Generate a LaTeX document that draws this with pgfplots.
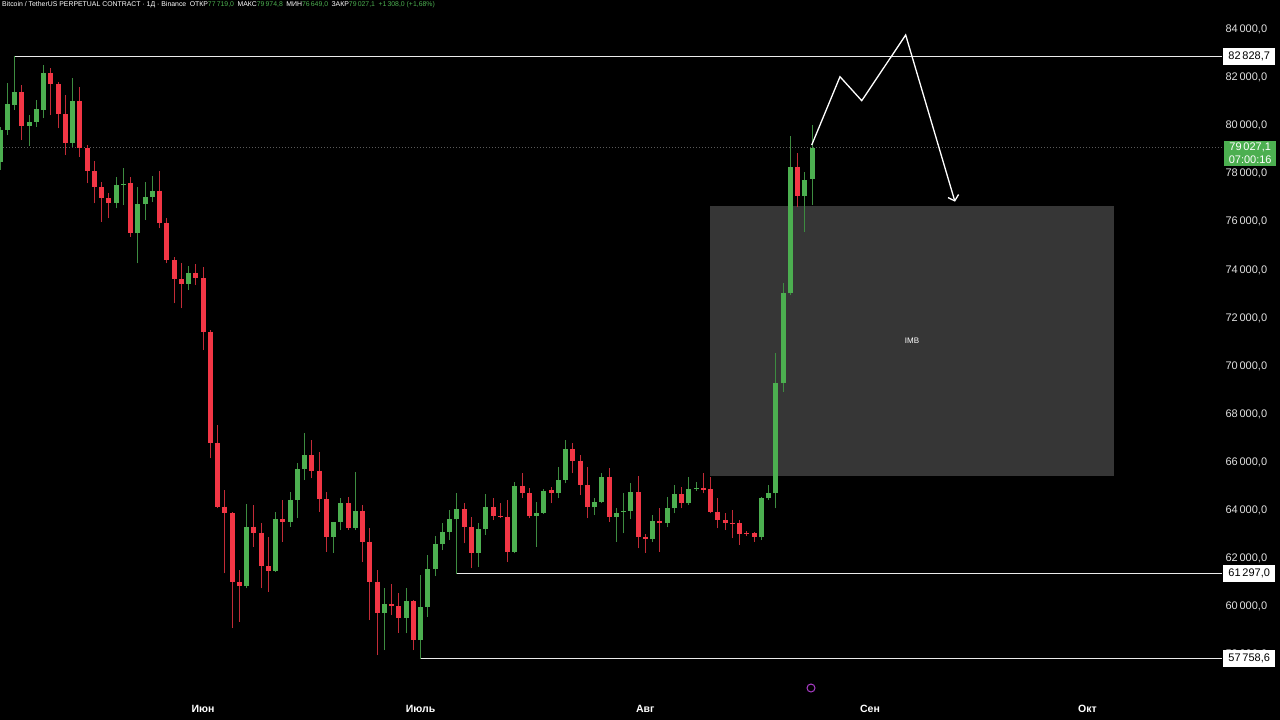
\documentclass[border=0pt]{standalone}
\usepackage{pgfplots}
\pgfplotsset{compat=1.18}
\usepackage{pgfplotstable}
\usepackage{fontspec}
\setmainfont{Liberation Sans}
\usetikzlibrary{arrows.meta,backgrounds}
\definecolor{cgreen}{RGB}{76,175,80}
\definecolor{cred}{RGB}{242,54,69}
\definecolor{boxgray}{RGB}{54,54,54}
\definecolor{axtext}{RGB}{225,225,225}
\definecolor{dotgray}{RGB}{90,90,90}
\definecolor{iconpurple}{RGB}{170,60,200}

% green (rising) candles: x open high low close
\pgfplotstableread{
x o h l c
0 78439 79900 78092 79756
1 79756 81698 79548 80824
2 80797 82828 80588 81351
4 79937 80380 79104 80103
5 80103 81005 79895 80616
6 80588 82461 80242 82114
10 79229 81934 79063 80963
16 76733 77815 76497 77468
17 77468 78161 76636 77520
19 75457 77399 74208 76677
20 76677 77607 76011 76982
21 76982 77856 76775 77232
26 73348 74111 73099 73792
34 60784 64196 60687 63253
38 61422 63877 61380 63558
40 63461 64710 63253 64363
41 64363 65889 63600 65639
42 65639 67164 65195 66235
46 62837 63461 62171 63447
47 63447 64432 63114 64224
49 63211 65541 63114 63919
53 59676 60689 58123 60023
56 59468 60689 58816 60162
58 58539 61244 57758.6 59926
59 59926 62076 59510 61479
60 61479 62866 61202 62519
61 62519 63393 62284 63047
62 63047 63948 62700 63560
63 63560 64669 61297 63976
66 62173 63393 61590 63144
67 63144 64614 62908 64059
71 62214 65127 62145 64961
74 63698 64295 62422 63837
75 63837 64808 63782 64753
77 64642 65751 64434 65196
78 65196 66861 65058 66473
82 64059 64434 63740 64295
83 64295 65502 64226 65335
85 63671 64018 62631 63837
86 63865 64670 62977 63910
87 63907 65086 63560 64683
90 62728 63740 62631 63504
92 63421 64503 63227 64018
93 64018 64988 63810 64600
95 64226 65335 64156 64822
96 64822 65127 64753 64877
105 62811 64503 62700 64434
106 64434 64988 64364 64642
107 64638 70464 64014 69216
108 69216 73377 68869 72960
109 72960 79507 72891 78231
111 77011 78023 75526 77676
112 77719 79974.8 76649 79027.1
}\up

% red (falling) candles: x open high low close
\pgfplotstableread{
x o h l c
3 81351 81629 79340 79923
7 82114 82322 80380 81656
8 81656 81767 79826 80408
9 80408 81213 78716 79229
11 80963 81559 78647 79021
12 79021 79132 77537 78050
13 78050 78467 76705 77371
14 77371 77607 75942 76913
15 76913 77121 76081 76733
18 77537 77815 75318 75457
22 77232 78050 75665 75873
23 75873 76081 74208 74347
24 74347 74486 72544 73542
25 73542 74208 72336 73348
27 73792 74167 73307 73584
28 73584 74072 70604 71367
29 71367 71436 66096 66720
30 66720 67483 64016 64085
31 64085 64779 61311 63808
32 63808 63877 59023 60964
33 60964 61450 59300 60784
35 63253 64155 62421 63003
36 63003 63392 60687 61616
37 61616 62837 60548 61422
39 63558 64363 62629 63461
43 66235 66859 65264 65583
44 65583 66374 63877 64404
45 64404 64710 62213 62837
48 64224 64501 63114 63211
50 63919 64155 61797 62629
51 62629 63185 59371 60966
52 60966 61452 57915 59676
54 60023 60869 59579 59954
55 59954 60508 58844 59468
57 60162 60203 58123 58539
64 63976 64225 62561 63255
65 63255 63671 61521 62173
68 64059 64434 63532 63698
69 63698 64225 63602 63650
70 63650 64364 61798 62214
72 64961 65502 64434 64642
73 64642 64850 63602 63698
76 64781 64919 64225 64642
79 66473 66722 65474 66001
80 66001 66237 64572 64988
81 64988 65751 63601 64059
84 65335 65682 63463 63671
88 64683 65363 62353 62811
89 62839 62950 62173 62728
91 63504 64018 62214 63421
94 64600 64919 64018 64226
97 64877 65474 64642 64780
98 64808 65335 63809 63879
99 63879 64434 63185 63532
100 63532 63810 63116 63393
101 63420 63948 62769 63370
102 63393 63532 62492 62950
103 62995 63088 62866 62945
104 62977 63047 62631 62811
110 78231 78814 76539 77011
}\down

\begin{document}
\begin{tikzpicture}
\begin{axis}[
  scale only axis, width=1222pt, height=690pt,
  xmin=0, xmax=168.55, ymin=56461, ymax=85165,
  clip mode=individual,
  axis line style={draw=none},
  major tick length=0pt,
  scaled ticks=false,
  ytick={58000,60000,...,84000},
  yticklabel pos=right,
  xtick={28,58,89,120,150},
  xticklabels={Июн,Июль,Авг,Сен,Окт},
  tick label style={font=\fontsize{11}{13}\selectfont, text=axtext},
  yticklabel style={anchor=west, xshift=0pt, yshift=-1.5pt},
  xticklabel style={anchor=base, yshift=-23pt, font=\fontsize{10.5}{12}\selectfont\bfseries, text=white},
  /pgf/number format/fixed,
  /pgf/number format/fixed zerofill,
  /pgf/number format/precision=1,
  /pgf/number format/use comma,
  /pgf/number format/1000 sep={\,},
  /pgf/number format/assume math mode=true,
]
% current price dotted line
\addplot[dotgray, line width=0.8pt, dash pattern=on 1pt off 2pt] coordinates {(0,79027.1) (168.55,79027.1)};
% imbalance box
\addplot[fill=boxgray, draw=none] coordinates {(97.93,65363) (153.66,65363) (153.66,76595) (97.93,76595)};
% horizontal levels
\addplot[white!92!black, line width=1.3pt] coordinates {(1.93,82828.7) (168.55,82828.7)};
\addplot[white!92!black, line width=1.3pt] coordinates {(62.9,61297) (168.55,61297)};
\addplot[white!92!black, line width=1.3pt] coordinates {(57.9,57758.6) (168.55,57758.6)};
% wicks
\addplot[cgreen!80!black, line width=1pt, quiver={u=0, v=\thisrow{h}-\thisrow{l}}] table[x=x, y=l] {\up};
\addplot[cred!80!black, line width=1pt, quiver={u=0, v=\thisrow{h}-\thisrow{l}}] table[x=x, y=l] {\down};
% bodies
\addplot[cgreen, line width=5pt, quiver={u=0, v=\thisrow{c}-\thisrow{o}}] table[x=x, y=o] {\up};
\addplot[cred, line width=5pt, quiver={u=0, v=\thisrow{c}-\thisrow{o}}] table[x=x, y=o] {\down};
% projected path
\addplot[white, line width=1.3pt, -{Straight Barb[length=5pt,width=11pt]}] coordinates {(111.96,79133) (115.86,81974) (118.86,80976) (124.92,83709) (131.72,76774)};
\node[text=white, font=\fontsize{8}{9}\selectfont] at (axis cs:125.8,70980) {IMB};
\node[draw=iconpurple, line width=1pt, circle, inner sep=0pt, minimum size=8pt] at (axis cs:111.86,56544) {};
\coordinate (r1) at (axis cs:168.55,82828.7);
\coordinate (r2) at (axis cs:168.55,61297);
\coordinate (r3) at (axis cs:168.55,57758.6);
\coordinate (rc) at (axis cs:168.55,79027.1);
\coordinate (BL) at (rel axis cs:0,0);
\coordinate (TR) at (rel axis cs:1,1);
\end{axis}
\begin{scope}[every node/.style={font=\fontsize{11}{13}\selectfont}]
\node[fill=white, text=black, anchor=west, minimum width=52pt, minimum height=17pt, inner sep=1pt] at ([xshift=1pt]r1) {82\,828,7};
\node[fill=white, text=black, anchor=west, minimum width=52pt, minimum height=17pt, inner sep=1pt] at ([xshift=1pt]r2) {61\,297,0};
\node[fill=white, text=black, anchor=west, minimum width=52pt, minimum height=17pt, inner sep=1pt] at ([xshift=1pt]r3) {57\,758,6};
\node[fill=cgreen, text=white, anchor=north west, minimum width=52pt, inner sep=2pt, align=center] at ([xshift=2pt,yshift=7pt]rc) {79\,027,1\\07:00:16};
\end{scope}
\node[anchor=west, inner sep=0pt, text=white, font=\fontsize{6.9}{8}\selectfont] at ([xshift=2pt,yshift=-5pt]BL |- TR)
 {Bitcoin / TetherUS PERPETUAL CONTRACT · 1Д · Binance\enspace ОТКР\textcolor{cgreen}{77\,719,0}\enspace МАКС\textcolor{cgreen}{79\,974,8}\enspace МИН\textcolor{cgreen}{76\,649,0}\enspace ЗАКР\textcolor{cgreen}{79\,027,1}\enspace\textcolor{cgreen}{+1\,308,0 (+1,68\%)}};
\begin{scope}[on background layer]
\fill[black] ([yshift=-30pt]BL) rectangle ([xshift=58pt]TR);
\end{scope}
\pgfresetboundingbox
\useasboundingbox ([yshift=-30pt]BL) rectangle ([xshift=58pt]TR);
\end{tikzpicture}
\end{document}
